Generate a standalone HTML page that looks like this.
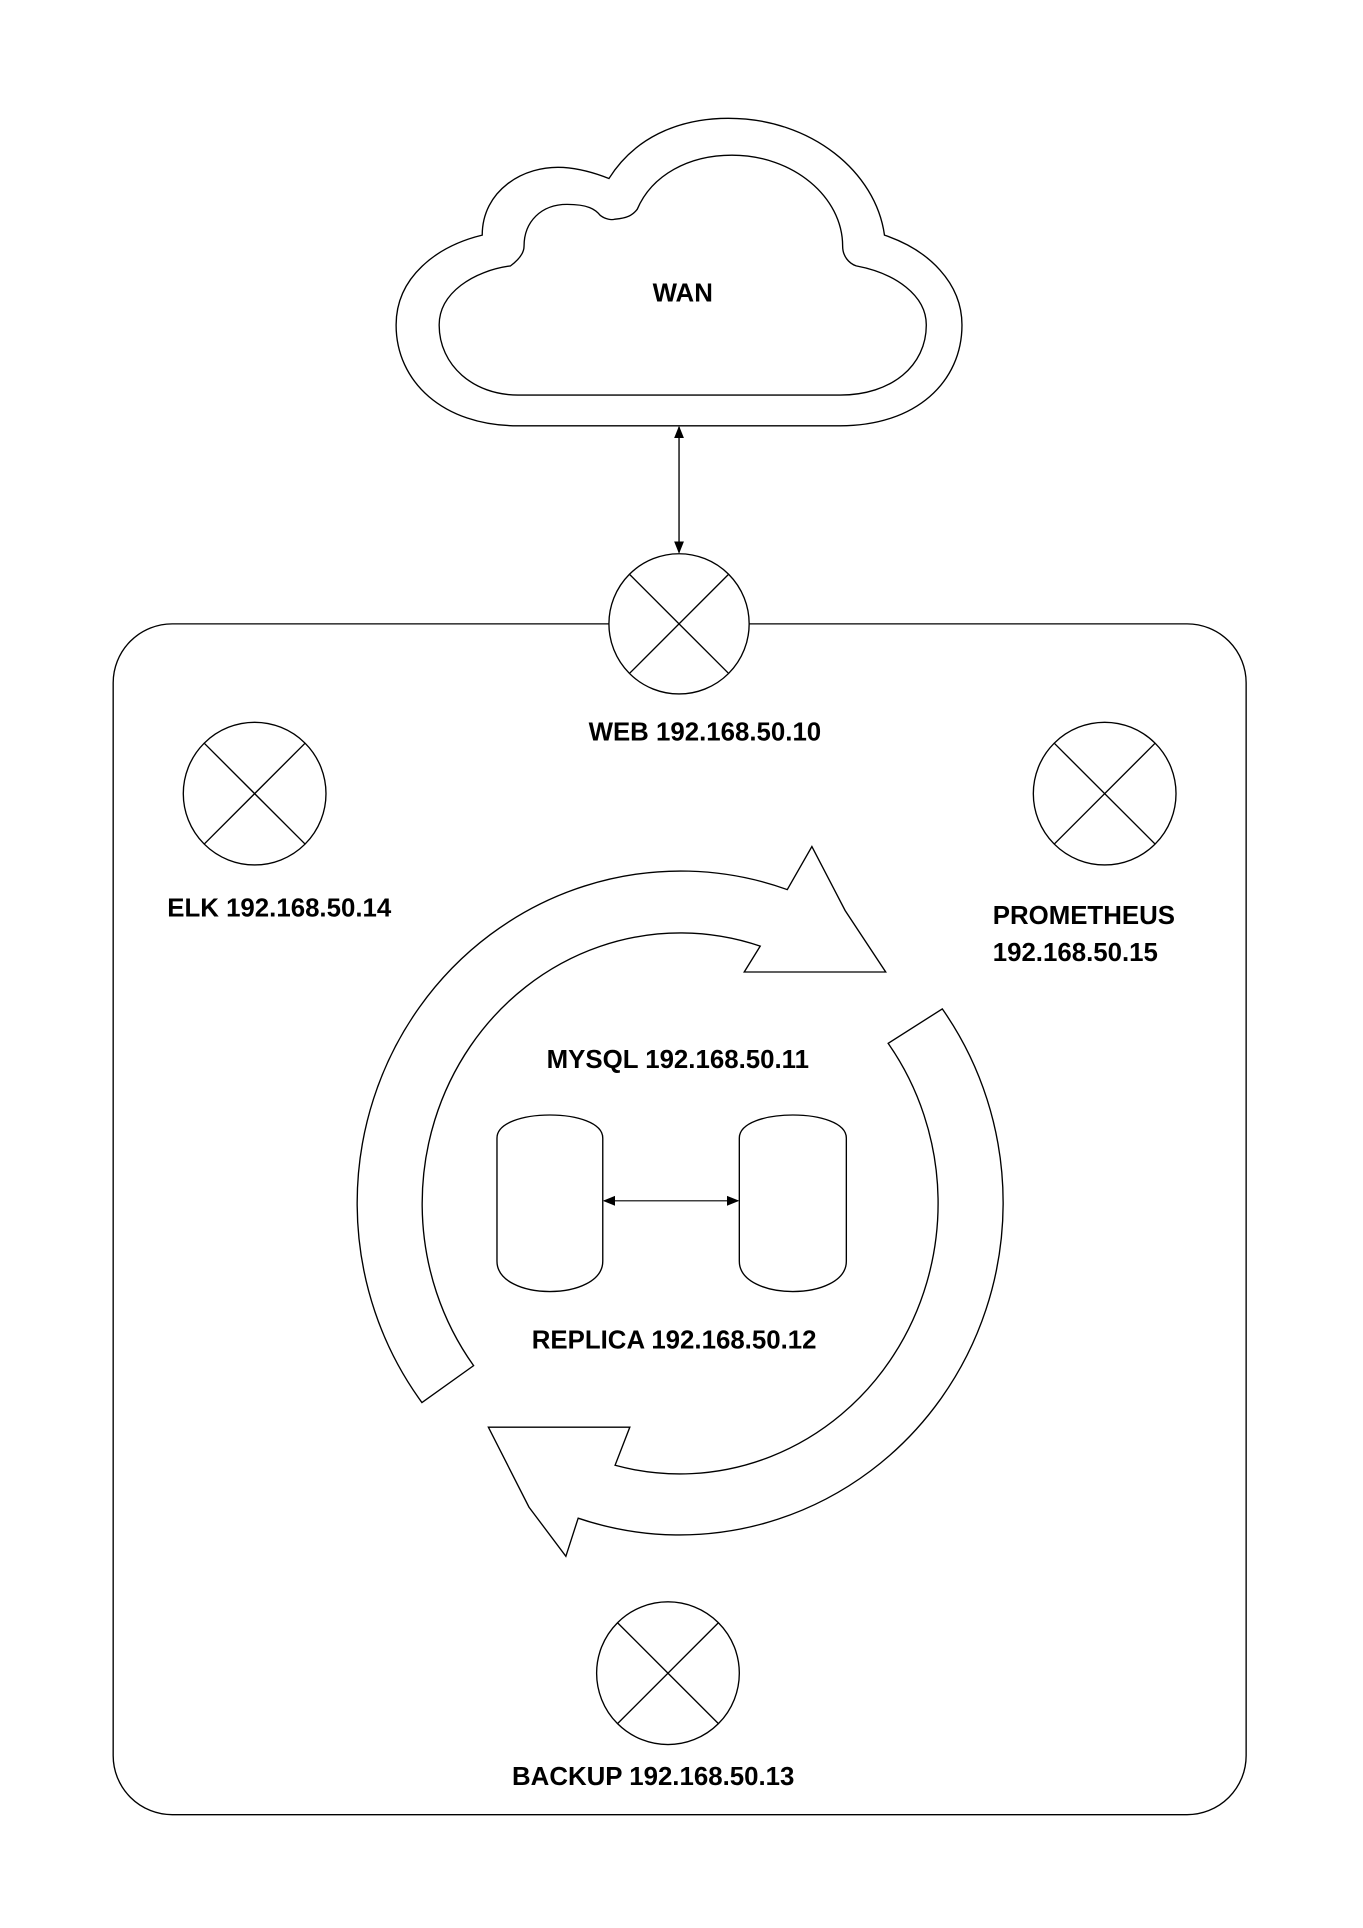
<!DOCTYPE html>
<html><head><meta charset="utf-8"><style>
html,body{margin:0;padding:0;background:#fff;}
svg{display:block;}
text{font-family:"Liberation Sans",sans-serif;font-weight:bold;font-size:21px;fill:#000;}
</style></head><body>
<svg width="1363" height="1928" viewBox="0 0 1108 1567" xmlns="http://www.w3.org/2000/svg">
<defs>
<marker id="ah" markerWidth="10" markerHeight="10" refX="9" refY="5" orient="auto-start-reverse" markerUnits="userSpaceOnUse">
<path d="M0,1 L10,5 L0,9 Z" fill="#000"/>
</marker>
</defs>
<g fill="none" stroke="#000" stroke-width="1.1">
<path d="M421 346 C360 346 322 310 322 264 C322 225 355 200 392 191 C392 155 425 134 458 136 C472 137 485 141 495 145 C515 113 550 96 592 96 C660 96 712 140 719 191 C755 203 782 230 782 264 C782 310 745 346 683 346 Z"/>
<path d="M421 321 C385 321 357 297 357 264 C357 238 385 220 415 216 C423 210 426 205 426 200 C426 180 440 166 461 166 C478 166 484 170 488 175 C492 178 497 179 500 178 C510 177 514 175 518 170 C530 142 560 126 595 126 C645 126 685 160 685 200 C685 208 690 214 696 216 C728 222 753 240 753 264 C753 297 725 321 683 321 Z"/>
<line x1="552" y1="347" x2="552" y2="449" marker-end="url(#ah)" marker-start="url(#ah)"/>
<rect x="92" y="507" width="921" height="968" rx="48" ry="48"/>
</g>
<g fill="#fff" stroke="#000" stroke-width="1.1">
<circle cx="552" cy="507" r="57"/>
<circle cx="207" cy="645" r="58"/>
<circle cx="898" cy="645" r="58"/>
<circle cx="543" cy="1360" r="58"/>
</g>
<g stroke="#000" stroke-width="1.1">
<line x1="512" y1="467" x2="592" y2="547"/><line x1="592" y1="467" x2="512" y2="547"/>
<line x1="166" y1="604" x2="248" y2="686"/><line x1="248" y1="604" x2="166" y2="686"/>
<line x1="857" y1="604" x2="939" y2="686"/><line x1="939" y1="604" x2="857" y2="686"/>
<line x1="502" y1="1319" x2="584" y2="1401"/><line x1="584" y1="1319" x2="502" y2="1401"/>
</g>
<g fill="#fff" stroke="#000" stroke-width="1.1" stroke-linejoin="miter">
<path d="M343 1140 A263 270 0 0 1 640 723 L660 688 L687 740 L720 790 L605 790 L618 769 A210 220 0 0 0 385 1110 Z"/>
<path d="M766 820 A263 270 0 0 1 470 1234 L460 1265 L430 1225 L397 1160 L512 1160 L500 1191 A210 220 0 0 0 722 848 Z"/>
</g>
<g fill="#fff" stroke="#000" stroke-width="1.1">
<path d="M404 925 C404 900 490 900 490 925 L490 1025 C490 1058 404 1058 404 1025 Z"/>
<path d="M601 925 C601 900 688 900 688 925 L688 1025 C688 1058 601 1058 601 1025 Z"/>
</g>
<line x1="491" y1="976" x2="600" y2="976" stroke="#000" stroke-width="1" marker-end="url(#ah)" marker-start="url(#ah)"/>
<text x="555" y="245" text-anchor="middle">WAN</text>
<text x="573" y="602" text-anchor="middle">WEB 192.168.50.10</text>
<text x="227" y="745" text-anchor="middle">ELK 192.168.50.14</text>
<text x="807" y="751">PROMETHEUS</text>
<text x="807" y="781">192.168.50.15</text>
<text x="551" y="868" text-anchor="middle">MYSQL 192.168.50.11</text>
<text x="548" y="1096" text-anchor="middle">REPLICA 192.168.50.12</text>
<text x="531" y="1451" text-anchor="middle">BACKUP 192.168.50.13</text>
</svg>
</body></html>
